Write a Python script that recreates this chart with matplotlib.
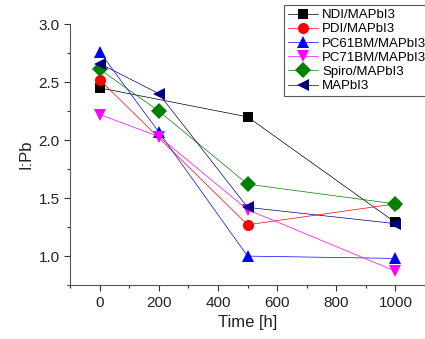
import matplotlib.pyplot as plt
from matplotlib.ticker import MultipleLocator

plt.rcParams['font.family'] = ['Liberation Sans', 'DejaVu Sans']

labels = ['NDI/MAPbI3', 'PDI/MAPbI3', 'PC61BM/MAPbI3', 'PC71BM/MAPbI3', 'Spiro/MAPbI3', 'MAPbI3']
times = [
    [0, 500, 1000],
    [0, 500, 1000],
    [0, 200, 500, 1000],
    [0, 200, 500, 1000],
    [0, 200, 500, 1000],
    [0, 200, 500, 1000],
]
values = [
    [2.45, 2.20, 1.29],
    [2.52, 1.27, 1.45],
    [2.76, 2.07, 1.00, 0.98],
    [2.22, 2.03, 1.40, 0.87],
    [2.61, 2.25, 1.62, 1.45],
    [2.66, 2.40, 1.42, 1.28],
]
colors = ['black', 'red', 'blue', 'magenta', 'green', 'navy']
markers = ['s', 'o', '^', 'v', 'D', '<']
sizes = [7, 8, 8.5, 8.5, 8, 8.5]

fig = plt.figure(figsize=(4.25, 3.39), dpi=100)
ax = fig.add_axes([0.165, 0.159, 0.835, 0.77])

for t, v, c, m, s, lab in zip(times, values, colors, markers, sizes, labels):
    ax.plot(t, v, color=c, lw=0.5, marker=m, markersize=s, markeredgewidth=0,
            label=lab)

ax.set_xlim(-100, 1100)
ax.set_ylim(0.75, 3.0)
ax.xaxis.set_minor_locator(MultipleLocator(100))
ax.yaxis.set_minor_locator(MultipleLocator(0.25))
ax.set_xticks([0, 200, 400, 600, 800, 1000])
ax.set_yticks([1.0, 1.5, 2.0, 2.5, 3.0])
ax.tick_params(which='major', direction='out', length=4, width=0.8,
               labelsize=11, colors='#333333', labelcolor='#222222')
ax.tick_params(which='minor', direction='out', length=2.5, width=0.8, colors='#333333')

for side in ['top', 'right']:
    ax.spines[side].set_visible(False)
for side in ['left', 'bottom']:
    ax.spines[side].set_color('#555555')

ax.set_xlabel('Time [h]', fontsize=12, color='#222222')
ax.set_ylabel('I:Pb', fontsize=12, color='#222222')

leg = ax.legend(loc='upper left', bbox_to_anchor=(284 / 425, 1 - 5 / 339),
                bbox_transform=fig.transFigure, fontsize=9.5,
                frameon=True, fancybox=False, framealpha=1,
                edgecolor='#555555', handlelength=2.3, handletextpad=0.3,
                labelspacing=0.15, borderpad=0.3, borderaxespad=0)
leg.get_frame().set_linewidth(0.8)

fig.savefig('out.png', dpi=100)
